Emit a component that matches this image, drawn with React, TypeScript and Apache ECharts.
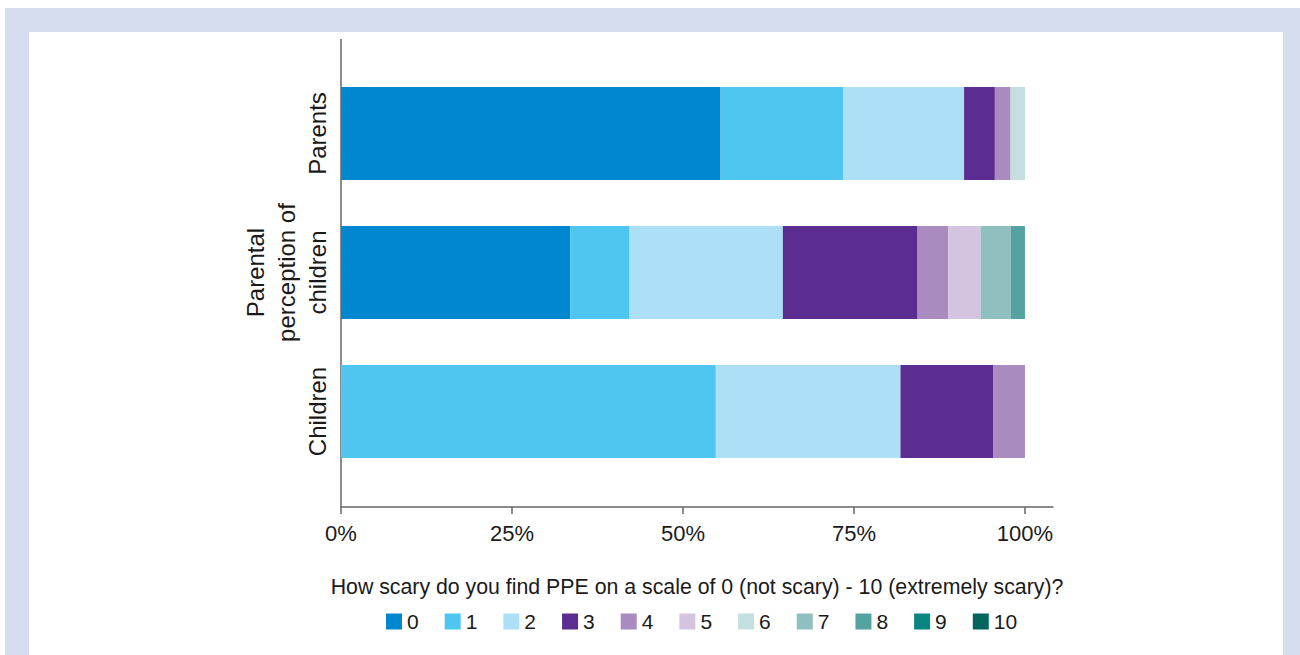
import React, { useEffect, useRef } from "react";
import * as echarts from "echarts";

const categories = ["Children", "Parental\nperception of\nchildren", "Parents"];
const levels = ["0", "1", "2", "3", "4", "5", "6", "7", "8", "9", "10"];
const colors = ["#0087cf", "#4fc6f0", "#ade0f7", "#5b2d91", "#a98bbf", "#d4c4e0", "#c5dfe0", "#8fbfbf", "#55a3a0", "#0b857f", "#01655e"];

// values per score level, for [Children, Parental perception of children, Parents] (%)
const s0 = [0, 33.5, 55.5];
const s1 = [54.8, 8.7, 17.9];
const s2 = [27.0, 22.4, 17.7];
const s3 = [13.6, 19.7, 4.5];
const s4 = [4.6, 4.5, 2.3];
const s5 = [0, 4.7, 0];
const s6 = [0, 0, 2.1];
const s7 = [0, 4.4, 0];
const s8 = [0, 2.1, 0];
const s9 = [0, 0, 0];
const s10 = [0, 0, 0];
const seriesValues = [s0, s1, s2, s3, s4, s5, s6, s7, s8, s9, s10];

const xTicks = [0, 25, 50, 75, 100];
const xTitle = "How scary do you find PPE on a scale of 0 (not scary) - 10 (extremely scary)?";

const FONT = "'Liberation Sans', Arial, Helvetica, sans-serif";

export default function App() {
  const ref = useRef<HTMLDivElement>(null);
  useEffect(() => {
    if (!ref.current) return;
    const chart = echarts.init(ref.current, undefined, { renderer: "svg" });
    chart.setOption({
      animation: false,
      textStyle: { fontFamily: FONT },
      grid: { left: 341, right: 247, top: 64, bottom: 174, containLabel: false },
      xAxis: {
        type: "value",
        min: 0,
        max: 104.1,
        offset: 26,
        axisLine: { show: true, lineStyle: { color: "#666666", width: 1.5 } },
        axisTick: { show: true, length: 7, customValues: xTicks, lineStyle: { color: "#666666", width: 1.5 } },
        axisLabel: {
          customValues: xTicks,
          formatter: "{value}%",
          fontSize: 22,
          color: "#1a1a1a",
          margin: 15,
          fontFamily: FONT,
        },
        splitLine: { show: false },
      },
      yAxis: {
        type: "category",
        data: categories,
        axisLine: { show: false },
        axisTick: { show: false },
        axisLabel: {
          interval: 0,
          rotate: 90,
          fontSize: 24,
          lineHeight: 31,
          color: "#1a1a1a",
          margin: 8,
          fontFamily: FONT,
        },
      },
      legend: {
        data: levels,
        left: 381,
        top: 606,
        icon: "rect",
        itemWidth: 16,
        itemHeight: 16,
        itemGap: 26,
        textStyle: { fontSize: 21, color: "#1a1a1a", fontFamily: FONT },
      },
      graphic: [
        {
          type: "line",
          shape: { x1: 341, y1: 39, x2: 341, y2: 507 },
          style: { stroke: "#666666", lineWidth: 1.5 },
        },
        {
          type: "text",
          x: 697,
          y: 587,
          style: {
            text: xTitle,
            fontSize: 21.3,
            fontFamily: FONT,
            fill: "#1a1a1a",
            textAlign: "center",
            textVerticalAlign: "middle",
          },
        },
      ],
      series: seriesValues.map((vals, i) => ({
        name: levels[i],
        type: "bar",
        stack: "total",
        barWidth: 93,
        data: vals,
        itemStyle: { color: colors[i] },
        emphasis: { disabled: true },
      })),
    });
    return () => chart.dispose();
  }, []);

  return (
    <div style={{ position: "fixed", left: 0, top: 0, width: 1300, height: 655, background: "#ffffff" }}>
      <div style={{ position: "absolute", left: 5, top: 8, width: 1295, height: 647, background: "#d4dcee" }} />
      <div style={{ position: "absolute", left: 29, top: 32, width: 1254, height: 623, background: "#ffffff" }} />
      <div ref={ref} style={{ position: "absolute", left: 0, top: 0, width: 1300, height: 655 }} />
    </div>
  );
}
